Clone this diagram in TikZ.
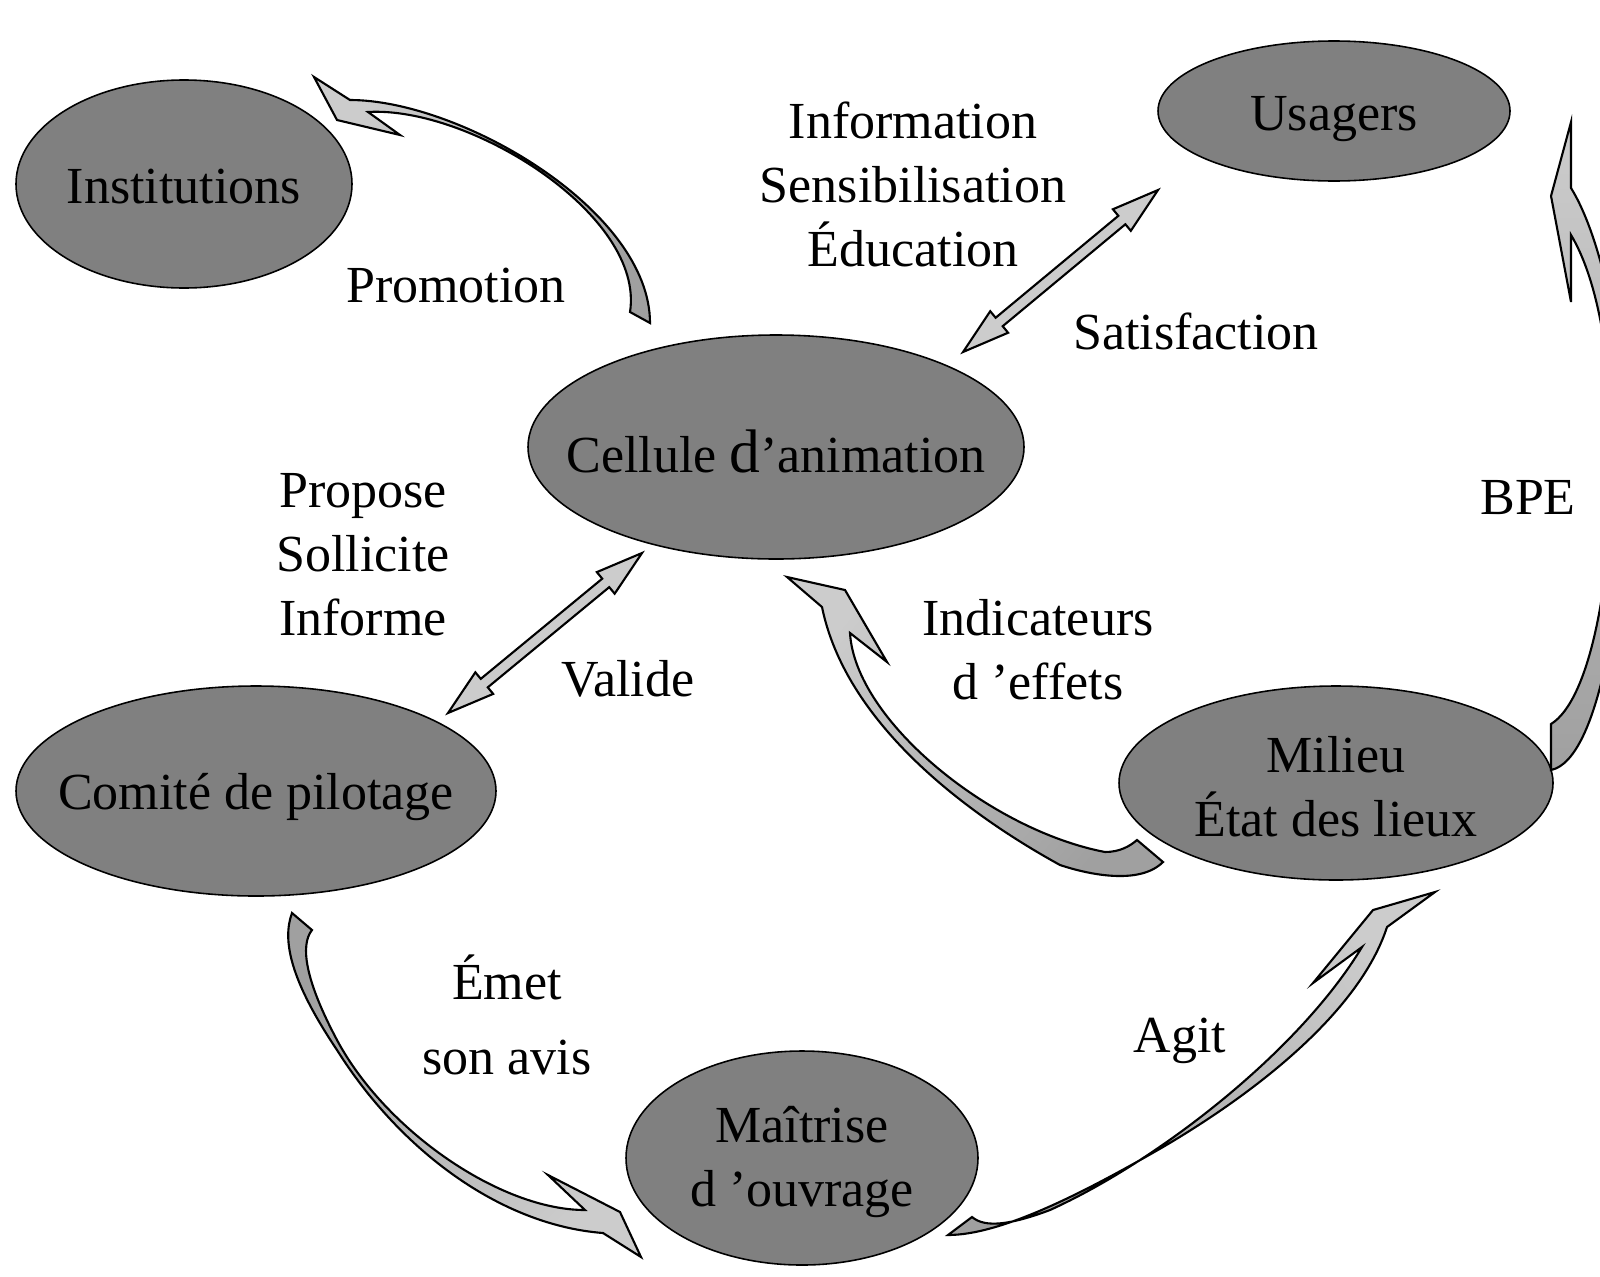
\documentclass[tikz,border=0pt]{standalone}
\usepackage{fontspec}
\setmainfont{Liberation Serif}
\usetikzlibrary{shapes.geometric,calc}

\definecolor{zonegray}{RGB}{128,128,128}
\definecolor{arrowlight}{RGB}{204,204,204}
\definecolor{arrowdark}{RGB}{160,160,160}

\tikzstyle{zone}=[shape=ellipse,draw=black,line width=0.45pt,fill=zonegray,inner sep=0pt]
\tikzstyle{verb}=[align=center,inner sep=0pt]
\tikzstyle{curlarrow}=[draw=black,line width=0.6pt,top color=arrowlight,bottom color=arrowdark]

\newcommand{\twoway}[2]{%
  \coordinate (h1) at ($(#1)!0.47cm!(#2)$);
  \coordinate (h2) at ($(#2)!0.47cm!(#1)$);
  \filldraw[draw=black,fill=arrowlight,line width=0.6pt]
    (#1) -- ($(h1)!0.14cm!-90:(#2)$) -- ($(h1)!0.055cm!-90:(#2)$)
    -- ($(h2)!0.055cm!90:(#1)$) -- ($(h2)!0.14cm!90:(#1)$) -- (#2)
    -- ($(h2)!0.14cm!-90:(#1)$) -- ($(h2)!0.055cm!-90:(#1)$)
    -- ($(h1)!0.055cm!90:(#2)$) -- ($(h1)!0.14cm!90:(#2)$) -- cycle;}

\begin{document}
\begin{tikzpicture}[font=\fontsize{14.8}{18.2}\selectfont]
        \useasboundingbox (0,0) rectangle (16,-12.76);
        \clip (0,0) rectangle (16,-12.76);
        % zones
        \node[zone,minimum width=3.36cm,minimum height=2.08cm,
            label={[verb,yshift=-0.03cm]center:Institutions}] (institutions) at (1.84,-1.84) {};
        \node[zone,minimum width=3.52cm,minimum height=1.40cm,
            label={[verb,yshift=-0.08cm]center:Usagers}] (usagers) at (13.34,-1.11) {};
        \node[zone,minimum width=4.96cm,minimum height=2.24cm,
            label={[verb,yshift=-0.04cm]center:Cellule {\fontsize{17.5}{18.2}\selectfont d}’animation}] (cellule) at (7.76,-4.47) {};
        \node[zone,minimum width=4.80cm,minimum height=2.10cm,
            label={[verb,yshift=-0.06cm]center:Comité de pilotage}] (comite) at (2.56,-7.91) {};
        \node[zone,minimum width=4.34cm,minimum height=1.94cm,
            label={[verb,yshift=-0.04cm]center:Milieu\\État des lieux}] (milieu) at (13.36,-7.83) {};
        \node[zone,minimum width=3.52cm,minimum height=2.14cm,
            label={[verb,yshift=-0.04cm]center:Maîtrise\\d ’ouvrage}] (maitrise) at (8.02,-11.58) {};

        % labels
        \node[verb] (info) at (9.13,-1.84) {Information\\Sensibilisation\\Éducation};
        \node[verb] (satisf) at (11.96,-3.31) {Satisfaction};
        \node[verb] (promo) at (4.56,-2.86) {Promotion};
        \node[verb] (propose) at (3.63,-5.55) {Propose\\Sollicite\\Informe};
        \node[verb] (valide) at (6.28,-6.79) {Valide};
        \node[verb] (indic) at (10.38,-6.50) {Indicateurs\\d ’effets};
        \node[verb] (bpe) at (15.28,-4.98) {BPE};
        \node[verb,font=\fontsize{14.8}{21.2}\selectfont] (emet) at (5.07,-10.15) {Émet\\son avis};
        \node[verb] (agit) at (11.80,-10.41) {Agit};

        % two-way arrows
        \coordinate (v1) at (4.48,-7.13);
        \coordinate (v2) at (6.42,-5.53);
        \coordinate (s1) at (9.63,-3.52);
        \coordinate (s2) at (11.58,-1.90);
        \twoway{v1}{v2}
        \twoway{s1}{s2}

        % curved arrows
        \path[curlarrow,shading angle=45] (3.14,-0.77) -- (3.50,-1.00)
            .. controls (4.6,-1.0) and (6.5,-2.1) .. (6.50,-3.23) -- (6.30,-3.12)
            .. controls (6.45,-2.15) and (4.7,-1.06) .. (3.68,-1.12)
            -- (4.00,-1.35) -- (3.37,-1.20) -- cycle;
        \path[curlarrow,shading angle=50] (7.87,-5.77) -- (8.45,-5.90) -- (8.87,-6.62) -- (8.50,-6.33)
            .. controls (8.55,-7.2) and (9.9,-8.3) .. (11.05,-8.52)
            .. controls (11.2,-8.52) and (11.3,-8.46) .. (11.37,-8.40) -- (11.63,-8.62)
            .. controls (11.4,-8.85) and (10.9,-8.75) .. (10.60,-8.65)
            .. controls (9.6,-8.1) and (8.45,-7.2) .. (8.22,-6.07) -- cycle;
        \path[curlarrow,shading angle=-135] (2.92,-9.13)
            .. controls (2.82,-9.4) and (2.9,-9.8) .. (3.37,-10.50)
            .. controls (4.0,-11.5) and (5.0,-12.25) .. (6.03,-12.33)
            -- (6.41,-12.57) -- (6.20,-12.12) -- (5.48,-11.75) -- (5.85,-12.10)
            .. controls (5.0,-12.1) and (3.85,-11.3) .. (3.37,-10.40)
            .. controls (3.05,-9.8) and (3.0,-9.45) .. (3.12,-9.30) -- cycle;
        \path[curlarrow,shading angle=-55] (14.35,-8.92) -- (13.87,-9.27)
            .. controls (13.6,-10.1) and (12.6,-10.9) .. (11.63,-11.47)
            .. controls (10.8,-11.95) and (10.0,-12.35) .. (9.48,-12.35) -- (9.72,-12.17)
            .. controls (9.85,-12.28) and (10.1,-12.25) .. (10.5,-12.1)
            .. controls (11.6,-11.6) and (13.0,-10.5) .. (13.62,-9.47)
            -- (13.13,-9.83) -- (13.73,-9.10) -- cycle;
        \path[curlarrow,shading angle=0] (15.71,-1.22) -- (15.71,-1.88)
            .. controls (16.0,-2.35) and (16.25,-3.4) .. (16.25,-4.6)
            .. controls (16.25,-5.9) and (16.0,-7.6) .. (15.51,-7.70) -- (15.51,-7.24)
            .. controls (15.9,-7.0) and (16.12,-5.8) .. (16.12,-4.6)
            .. controls (16.12,-3.5) and (15.95,-2.75) .. (15.71,-2.35)
            -- (15.71,-3.02) -- (15.51,-1.96) -- cycle;
\end{tikzpicture}
\end{document}
